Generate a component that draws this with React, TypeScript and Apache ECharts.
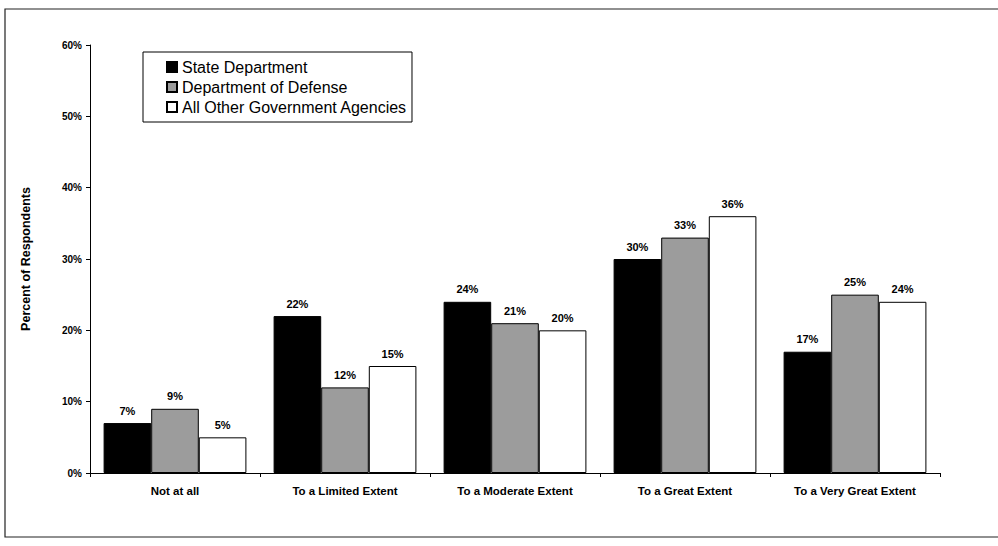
import React, { useEffect, useRef } from "react";
import * as echarts from "echarts";

const categories = ["Not at all", "To a Limited Extent", "To a Moderate Extent", "To a Great Extent", "To a Very Great Extent"];
const stateDept = [7, 22, 24, 30, 17];
const defense = [9, 12, 21, 33, 25];
const otherAgencies = [5, 15, 20, 36, 24];
const seriesNames = ["State Department", "Department of Defense", "All Other Government Agencies"];

export default function App() {
  const ref = useRef<HTMLDivElement>(null);
  useEffect(() => {
    const chart = echarts.init(ref.current!, null, { renderer: "svg" });
    const font = "Arial, 'Liberation Sans', Helvetica, sans-serif";
    const label = {
      show: true,
      position: "top" as const,
      formatter: "{c}%",
      fontFamily: font,
      fontWeight: "bold" as const,
      fontSize: 11,
      color: "#000",
      distance: 7,
    };
    const mk = (name: string, data: number[], color: string) => ({
      name,
      type: "bar" as const,
      data,
      barGap: "0%",
      barCategoryGap: "16%",
      itemStyle: { color, borderColor: "#000", borderWidth: 1 },
      label,
    });
    chart.setOption({
      animation: false,
      backgroundColor: "#fff",
      graphic: [
        {
          type: "rect",
          shape: { x: 5, y: 9, width: 1000, height: 528 },
          style: { fill: "none", stroke: "#222", lineWidth: 1.2 },
          silent: true,
        },
      ],
      grid: { left: 90, right: 58, top: 45, bottom: 73, containLabel: false },
      legend: {
        orient: "vertical",
        left: 143,
        top: 52,
        data: seriesNames,
        itemWidth: 10,
        itemHeight: 10,
        itemGap: 4,
        padding: [7, 5, 7, 23],
        borderColor: "#000",
        borderWidth: 1,
        backgroundColor: "#fff",
        icon: "rect",
        textStyle: { fontFamily: font, fontSize: 16, color: "#000" },
      },
      xAxis: {
        type: "category",
        data: categories,
        axisLine: { lineStyle: { color: "#000", width: 1 } },
        axisTick: { show: true, length: 4, lineStyle: { color: "#000" } },
        axisLabel: {
          fontFamily: font,
          fontWeight: "bold",
          fontSize: 11.5,
          color: "#000",
          margin: 12,
        },
      },
      yAxis: {
        type: "value",
        min: 0,
        max: 60,
        interval: 10,
        name: "Percent of Respondents",
        nameLocation: "middle",
        nameGap: 58,
        nameTextStyle: { fontFamily: font, fontWeight: "bold", fontSize: 12.5, color: "#000" },
        axisLine: { show: true, lineStyle: { color: "#000", width: 1 } },
        axisTick: { show: true, length: 4, lineStyle: { color: "#000" } },
        splitLine: { show: false },
        axisLabel: {
          formatter: "{value}%",
          fontFamily: font,
          fontWeight: "bold",
          fontSize: 10,
          color: "#000",
          margin: 8,
        },
      },
      series: [
        mk(seriesNames[0], stateDept, "#000000"),
        mk(seriesNames[1], defense, "#9c9c9c"),
        mk(seriesNames[2], otherAgencies, "#ffffff"),
      ],
    });
    return () => chart.dispose();
  }, []);
  return (
    <div
      ref={ref}
      style={{ position: "fixed", left: 0, top: 0, width: 998, height: 546, background: "#fff" }}
    />
  );
}
